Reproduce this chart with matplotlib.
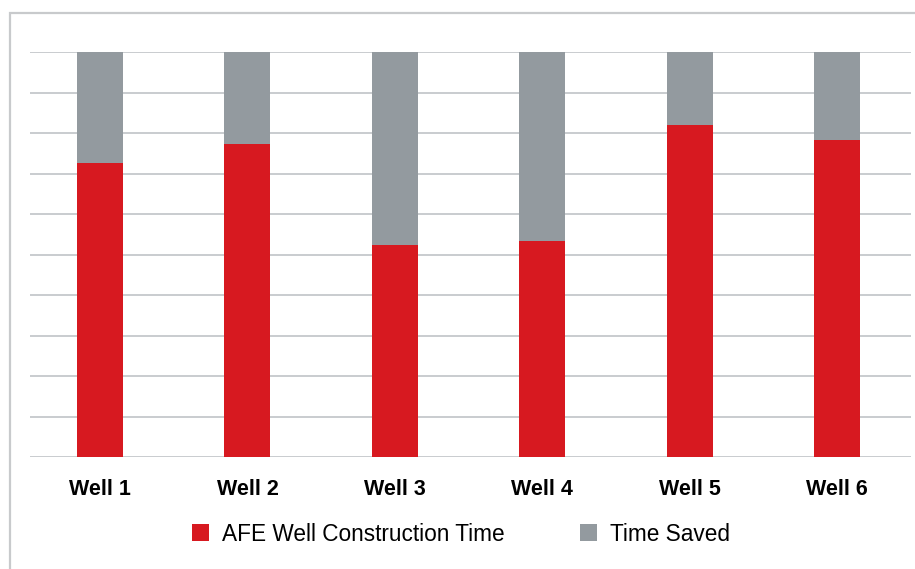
import matplotlib
matplotlib.use("Agg")
import matplotlib.pyplot as plt
from matplotlib.patches import Patch, Rectangle

# 数据：每口井的 AFE 建井时间占比与节省时间占比（%）
wells = ["Well 1", "Well 2", "Well 3", "Well 4", "Well 5", "Well 6"]
afe_time = [72.6, 77.3, 52.3, 53.3, 82.0, 78.3]
time_saved = [100 - v for v in afe_time]

RED = "#D71920"
GRAY = "#939A9F"
GRID = "#C9CCCF"

plt.rcParams["font.family"] = ["Liberation Sans", "DejaVu Sans"]

fig = plt.figure(figsize=(9.15, 5.69), dpi=100)

# 外框（只露出左边和上边）
fig.patches.append(Rectangle((9.5 / 915, -0.1), 1.2, (569 - 13.5) / 569 + 0.1,
                             transform=fig.transFigure, fill=False,
                             edgecolor="#C8CACC", linewidth=1.6))

ax = fig.add_axes([30 / 915, (569 - 457) / 569, 881 / 915, 405 / 569])

x = range(len(wells))
ax.bar(x, afe_time, width=0.312, color=RED, zorder=3)
ax.bar(x, time_saved, bottom=afe_time, width=0.312, color=GRAY, zorder=3)

ax.set_xlim(-0.475, 5.5)
ax.set_ylim(0, 100)
ax.set_yticks(range(0, 101, 10))
ax.yaxis.grid(True, color=GRID, linewidth=1.4, zorder=0)
ax.tick_params(axis="y", left=False, labelleft=False)
ax.tick_params(axis="x", bottom=False, pad=12)
ax.set_xticks(list(x))
ax.set_xticklabels(wells, fontsize=15.5, fontweight="bold")
for s in ax.spines.values():
    s.set_visible(False)

handles = [Patch(facecolor=RED, edgecolor="none", label="AFE Well Construction Time"),
           Patch(facecolor=GRAY, edgecolor="none", label="Time Saved")]
fig.legend(handles=handles, loc="center", bbox_to_anchor=(0.504, 0.0615), ncol=2,
           frameon=False, fontsize=16.3, handlelength=0.75, handleheight=0.75,
           handletextpad=0.6, columnspacing=3.3, borderpad=0)

fig.savefig("out.png", dpi=100)
